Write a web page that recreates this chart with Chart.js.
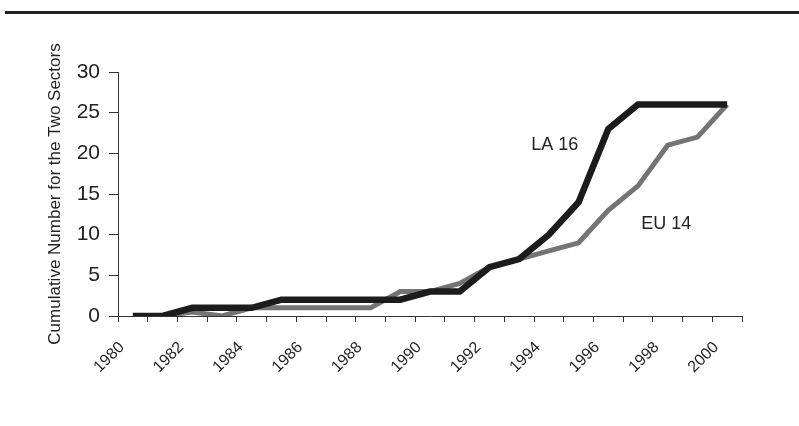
<!DOCTYPE html>
<html>
<head>
<meta charset="utf-8">
<script src="https://cdn.jsdelivr.net/npm/chart.js@4"></script>
<style>
  html, body { margin: 0; padding: 0; background: #fff; }
  #wrap { position: relative; width: 799px; height: 426px; }
  #rule { position: absolute; left: 5px; right: 0; top: 11px; height: 3px; background: #222; }
</style>
</head>
<body>
<div id="wrap">
  <div id="rule"></div>
  <canvas id="grafico" width="799" height="426"></canvas>
</div>
<script>
const anos = ['1980','1981','1982','1983','1984','1985','1986','1987','1988','1989','1990',
              '1991','1992','1993','1994','1995','1996','1997','1998','1999','2000'];
const la16 = [0,0,1,1,1,2,2,2,2,2,3,3,6,7,10,14,23,26,26,26,26];
const eu14 = [0,0,0.5,0,1,1,1,1,1,3,3,4,6,7,8,9,13,16,21,22,26];
const rotulosX = ['1980','','1982','','1984','','1986','','1988','','1990',
                  '','1992','','1994','','1996','','1998','','2000'];
const ticksY = [0,5,10,15,20,25,30];

// textos dentro do gráfico (posição em índice de categoria / valor)
const notas = ['LA 16', 'EU 14'];
const notasX = [14.2, 17.95];
const notasY = [21, 11.3];

const fonte = "'Liberation Sans', Arial, sans-serif";

const notasPlugin = {
    id: 'notas',
    afterDatasetsDraw(chart) {
        const c = chart.ctx;
        const x = chart.scales.x, y = chart.scales.y;
        c.save();
        c.fillStyle = '#222';
        c.font = '18px ' + fonte;
        c.textAlign = 'center';
        c.textBaseline = 'middle';
        notas.forEach((t, i) => {
            c.fillText(t, x.getPixelForValue(notasX[i]), y.getPixelForValue(notasY[i]));
        });
        c.restore();
    }
};

const ctx = document.getElementById('grafico').getContext('2d');
new Chart(ctx, {
    type: 'line',
    data: {
        labels: anos,
        datasets: [{
            label: 'LA 16',
            data: la16,
            borderColor: '#1c1c1c',
            borderWidth: 6.5,
            pointRadius: 0,
            tension: 0,
            borderJoinStyle: 'miter'
        }, {
            label: 'EU 14',
            data: eu14,
            borderColor: '#747474',
            borderWidth: 5,
            pointRadius: 0,
            tension: 0,
            borderJoinStyle: 'miter'
        }]
    },
    options: {
        responsive: false,
        animation: false,
        layout: { padding: { top: 72, right: 57, left: 0, bottom: 0 } },
        plugins: { legend: { display: false }, tooltip: { enabled: false } },
        scales: {
            x: {
                offset: true,
                grid: { offset: true, drawOnChartArea: false, tickLength: 6, color: '#333' },
                border: { color: '#333', width: 1 },
                ticks: {
                    autoSkip: false,
                    minRotation: 45,
                    maxRotation: 45,
                    padding: 16,
                    labelOffset: -11,
                    color: '#222',
                    font: { family: fonte, size: 16 },
                    callback: (v, i) => rotulosX[i]
                },
                afterFit(s) { s.height = 110; }
            },
            y: {
                min: 0,
                max: 30,
                afterBuildTicks(s) { s.ticks = ticksY.map(v => ({ value: v })); },
                grid: { drawOnChartArea: false, tickLength: 9, color: '#333' },
                border: { color: '#333', width: 1 },
                ticks: {
                    padding: 9,
                    color: '#222',
                    font: { family: fonte, size: 21 }
                },
                title: {
                    display: true,
                    text: 'Cumulative Number for the Two Sectors',
                    color: '#222',
                    font: { family: fonte, size: 17 },
                    padding: { top: 45, bottom: 0 }
                },
                afterFit(s) { s.width = 118; }
            }
        }
    },
    plugins: [notasPlugin]
});
</script>
</body>
</html>
